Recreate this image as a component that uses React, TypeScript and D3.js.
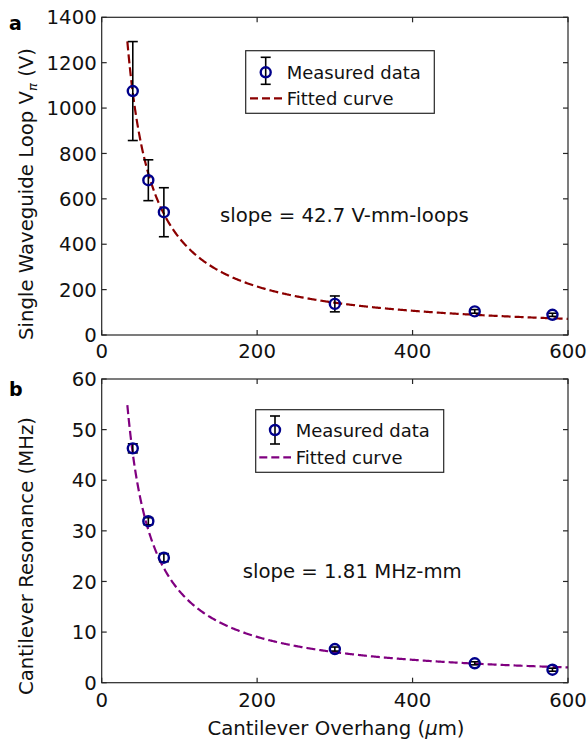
import React from "react";
import * as d3 from "d3";

const overhang = [40, 60, 80, 300, 480, 580];
const vpi = [1075, 682, 541, 137, 104, 89];
const vpiErr = [218, 90, 108, 35, 8, 7];
const resonance = [46.3, 31.9, 24.7, 6.65, 3.83, 2.57];
const resErr = [0.9, 0.7, 0.8, 0.4, 0.3, 0.3];
const vpiSlope = 42.7;
const resSlope = 1.81;
const xTicks = [0, 200, 400, 600];
const vpiTicks = [0, 200, 400, 600, 800, 1000, 1200, 1400];
const resTicks = [0, 10, 20, 30, 40, 50, 60];
const fitStart = 33;
const fitEnd = 600;

const FONT = "'DejaVu Sans', Verdana, sans-serif";
const MARKER = "#00008B";
const FS = 19.7;
const LFS = 18;

type PanelProps = {
  top: number;
  bottom: number;
  yMax: number;
  yTicks: number[];
  values: number[];
  errs: number[];
  slope: number;
  fitColor: string;
  panelLabel: string;
  yLabel: React.ReactNode;
  yLabelCenter: number;
  slopeText: string;
  slopePos: [number, number];
  legend: { x0: number; x1: number; y0: number; y1: number; mx: number; my: number; eb: [number, number]; tx: number; t1: number; lx0: number; lx1: number; ly: number; t2: number };
  labelY: number;
  xTickDy: number;
};

const LEFT = 101.7;
const RIGHT = 568;

function Panel(p: PanelProps) {
  const x = d3.scaleLinear().domain([0, 600]).range([LEFT, RIGHT]);
  const y = d3.scaleLinear().domain([0, p.yMax]).range([p.bottom, p.top]);
  const fitX = d3.range(fitStart, fitEnd + 0.5, 1);
  const line = d3
    .line<number>()
    .x((d) => x(d))
    .y((d) => y(p.slope / (d / 1000)));
  const tl = 5;
  const L = p.legend;
  return (
    <g>
      <text x={9} y={p.labelY} fontFamily={FONT} fontSize={19} fontWeight="bold">
        {p.panelLabel}
      </text>
      <path d={line(fitX) || ""} fill="none" stroke={p.fitColor} strokeWidth={2.2} strokeDasharray="9,4" />
      {overhang.map((o, i) => {
        const cx = x(o);
        const y1 = y(p.values[i] + p.errs[i]);
        const y2 = y(p.values[i] - p.errs[i]);
        return (
          <g key={"e" + i} stroke="#000" strokeWidth={1.6}>
            <line x1={cx} x2={cx} y1={y1} y2={y2} />
            <line x1={cx - 5} x2={cx + 5} y1={y1} y2={y1} />
            <line x1={cx - 5} x2={cx + 5} y1={y2} y2={y2} />
          </g>
        );
      })}
      {overhang.map((o, i) => (
        <circle key={"c" + i} cx={x(o)} cy={y(p.values[i])} r={5} fill="none" stroke={MARKER} strokeWidth={2.4} />
      ))}
      <rect x={LEFT} y={p.top} width={RIGHT - LEFT} height={p.bottom - p.top} fill="none" stroke="#262626" strokeWidth={1.2} />
      {xTicks.map((t) => (
        <g key={"xt" + t}>
          <line x1={x(t)} x2={x(t)} y1={p.bottom} y2={p.bottom - tl} stroke="#262626" strokeWidth={1.2} />
          <line x1={x(t)} x2={x(t)} y1={p.top} y2={p.top + tl} stroke="#262626" strokeWidth={1.2} />
          <text x={x(t)} y={p.bottom + p.xTickDy} textAnchor="middle" fontFamily={FONT} fontSize={FS} fill="#111">
            {t}
          </text>
        </g>
      ))}
      {p.yTicks.map((t) => (
        <g key={"yt" + t}>
          <line x1={LEFT} x2={LEFT + tl} y1={y(t)} y2={y(t)} stroke="#262626" strokeWidth={1.2} />
          <line x1={RIGHT} x2={RIGHT - tl} y1={y(t)} y2={y(t)} stroke="#262626" strokeWidth={1.2} />
          <text x={LEFT - 5} y={y(t)} dy="0.36em" textAnchor="end" fontFamily={FONT} fontSize={FS} fill="#111">
            {t}
          </text>
        </g>
      ))}
      <text
        transform={`translate(33,${p.yLabelCenter}) rotate(-90)`}
        textAnchor="middle"
        fontFamily={FONT}
        fontSize={FS}
        fill="#111"
      >
        {p.yLabel}
      </text>
      <text x={p.slopePos[0]} y={p.slopePos[1]} fontFamily={FONT} fontSize={FS} fill="#111">
        {p.slopeText}
      </text>
      <rect x={L.x0} y={L.y0} width={L.x1 - L.x0} height={L.y1 - L.y0} fill="#fff" stroke="#262626" strokeWidth={1.2} />
      <g stroke="#000" strokeWidth={1.6}>
        <line x1={L.mx} x2={L.mx} y1={L.eb[0]} y2={L.eb[1]} />
        <line x1={L.mx - 5} x2={L.mx + 5} y1={L.eb[0]} y2={L.eb[0]} />
        <line x1={L.mx - 5} x2={L.mx + 5} y1={L.eb[1]} y2={L.eb[1]} />
      </g>
      <circle cx={L.mx} cy={L.my} r={5} fill="none" stroke={MARKER} strokeWidth={2.4} />
      <text x={L.tx} y={L.t1} fontFamily={FONT} fontSize={LFS} fill="#111">
        Measured data
      </text>
      <line x1={L.lx0} x2={L.lx1} y1={L.ly} y2={L.ly} stroke={p.fitColor} strokeWidth={2.2} strokeDasharray="8,4" />
      <text x={L.tx} y={L.t2} fontFamily={FONT} fontSize={LFS} fill="#111">
        Fitted curve
      </text>
    </g>
  );
}

export default function App() {
  return (
    <svg width={587} height={742} style={{ position: "absolute", left: 0, top: 0, background: "#fff" }}>
      <rect width={587} height={742} fill="#fff" />
      <Panel
        top={17.3}
        bottom={335}
        yMax={1400}
        yTicks={vpiTicks}
        values={vpi}
        errs={vpiErr}
        slope={vpiSlope}
        fitColor="#8B0000"
        panelLabel="a"
        labelY={30}
        xTickDy={23}
        yLabel={
          <>
            Single Waveguide Loop V
            <tspan fontStyle="italic" fontSize={13} dy={4}>π</tspan>
            <tspan dy={-4}> (V)</tspan>
          </>
        }
        yLabelCenter={194}
        slopeText={`slope = ${vpiSlope} V-mm-loops`}
        slopePos={[220, 221.7]}
        legend={{ x0: 245.7, x1: 434.3, y0: 50.7, y1: 113.3, mx: 265.7, my: 72.3, eb: [57.3, 84.3], tx: 286.7, t1: 78.5, lx0: 250, lx1: 282, ly: 98.3, t2: 104.5 }}
      />
      <Panel
        top={379}
        bottom={682.7}
        yMax={60}
        yTicks={resTicks}
        values={resonance}
        errs={resErr}
        slope={resSlope}
        fitColor="#800080"
        panelLabel="b"
        labelY={396}
        xTickDy={24.5}
        yLabel={<>Cantilever Resonance (MHz)</>}
        yLabelCenter={556}
        slopeText={`slope = ${resSlope} MHz-mm`}
        slopePos={[242.7, 577.7]}
        legend={{ x0: 255.7, x1: 443.7, y0: 409.7, y1: 472.3, mx: 275, my: 430, eb: [416, 444], tx: 295.7, t1: 437, lx0: 259.3, lx1: 291, ly: 457.3, t2: 463.5 }}
      />
      <text x={336} y={735} textAnchor="middle" fontFamily={FONT} fontSize={FS} fill="#111">
        Cantilever Overhang (<tspan fontStyle="italic">μ</tspan>m)
      </text>
    </svg>
  );
}
